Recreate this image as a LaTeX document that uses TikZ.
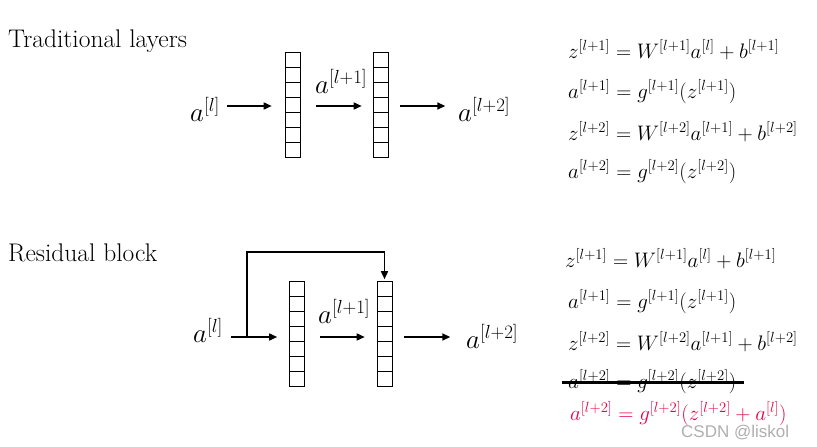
\RequirePackage{fix-cm}
\documentclass[tikz,border=0pt]{standalone}
\usepackage{fontspec}
\newfontfamily\wmfont{Liberation Sans}
\usetikzlibrary{arrows.meta,calc}
\definecolor{eqred}{RGB}{230,0,70}
\definecolor{wmgray}{RGB}{175,175,175}
\begin{document}
\begin{tikzpicture}[x=1pt,y=-1pt,
  title/.style={inner sep=0pt, anchor=base west, font=\fontsize{25.5}{30}\selectfont},
  lab/.style={inner sep=0pt, anchor=base west, font=\fontsize{27}{31}\selectfont},
  eq/.style={inner sep=0pt, anchor=base west, font=\fontsize{21}{25}\selectfont},
  arr/.style={line width=1.6pt, -{Triangle[length=8pt,width=7pt]}},
  col/.style={draw, line width=0.6pt, minimum width=15pt, minimum height=105pt, inner sep=0pt,
    path picture={\foreach \i in {1,...,6}
      \draw[line width=0.6pt] ([yshift=-15*\i pt]path picture bounding box.north west) -- ([yshift=-15*\i pt]path picture bounding box.north east);}},
]
\path[use as bounding box, fill=white] (0,0) rectangle (817,447);

% ---------- Traditional layers ----------
\node[title] (t1) at (8,47) {Traditional layers};
\node[lab] (al1) at (190,121) {$a^{[l]}$};
\node[col] (c1) at (292.5,104.5) {};
\node[col] (c2) at (380.5,104.5) {};
\node[lab] (al2) at (315,93) {$a^{[l+1]}$};
\node[lab] (al3) at (458,121) {$a^{[l+2]}$};
\draw[arr] ($(c1.west)+(-58,1.5)$) -- ($(c1.west)+(-13,1.5)$);
\draw[arr] ($(c1.east)+(16,1.5)$) -- ($(c2.west)+(-11,1.5)$);
\draw[arr] ($(c2.east)+(12,1.5)$) -- ($(c2.east)+(57,1.5)$);

\node[eq] (e1) at (568,58) {$z^{[l+1]} = W^{[l+1]}a^{[l]} + b^{[l+1]}$};
\node[eq] (e2) at (568,98) {$a^{[l+1]} = g^{[l+1]}(z^{[l+1]})$};
\node[eq] (e3) at (568,140) {$z^{[l+2]} = W^{[l+2]}a^{[l+1]} + b^{[l+2]}$};
\node[eq] (e4) at (568,178) {$a^{[l+2]} = g^{[l+2]}(z^{[l+2]})$};

% ---------- Residual block ----------
\node[title] (t2) at (8,261) {Residual block};
\node[lab] (bl1) at (193,342) {$a^{[l]}$};
\node[col] (c3) at (297,334) {};
\node[col] (c4) at (384.5,334) {};
\node[lab] (bl2) at (318,323) {$a^{[l+1]}$};
\node[lab] (bl3) at (466,348) {$a^{[l+2]}$};
\coordinate (s0) at ($(c3.west)+(-58,3)$);
\coordinate (sj) at ($(c3.west)+(-42,3)$);
\draw[arr] (s0) -- ($(c3.west)+(-12,3)$);
\draw[arr] ($(c3.east)+(15,3)$) -- ($(c4.west)+(-12,3)$);
\draw[arr] ($(c4.east)+(12,3)$) -- ($(c4.east)+(58,3)$);
\draw[line width=1.6pt, -{Triangle[length=8pt,width=7pt]}] (sj) -- (sj |- 0,252) -| ($(c4.north)+(0,-2)$);

\node[eq] (f1) at (565,267) {$z^{[l+1]} = W^{[l+1]}a^{[l]} + b^{[l+1]}$};
\node[eq] (f2) at (568,308) {$a^{[l+1]} = g^{[l+1]}(z^{[l+1]})$};
\node[eq] (f3) at (568,350) {$z^{[l+2]} = W^{[l+2]}a^{[l+1]} + b^{[l+2]}$};
\node[eq] (f4) at (568,388) {$a^{[l+2]} = g^{[l+2]}(z^{[l+2]})$};
\draw[line width=3pt] ($(f4.base west)+(-6,-6)$) -- ($(f4.base east)+(8,-6)$);
\node[eq, text=eqred] (f5) at (570,420) {$a^{[l+2]} = g^{[l+2]}(z^{[l+2]} + a^{[l]})$};

\node[inner sep=0pt, anchor=base west, text=wmgray, font=\wmfont\fontsize{17}{20}\selectfont] (wm) at (681,437) {CSDN @liskol};
\end{tikzpicture}
\end{document}
